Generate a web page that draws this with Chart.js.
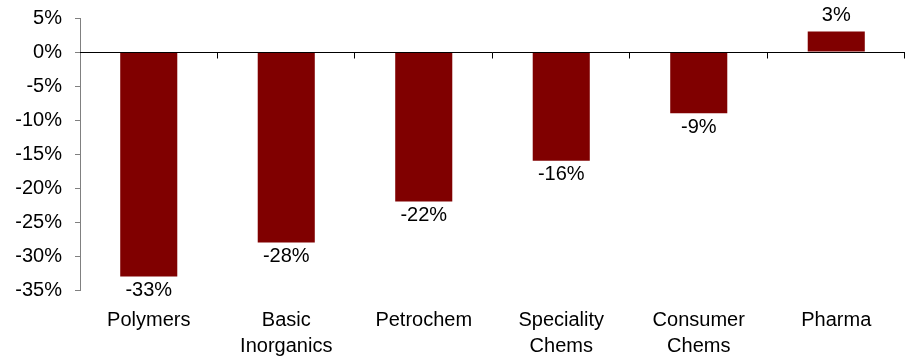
<!DOCTYPE html>
<html>
<head>
<meta charset="utf-8">
<title>Sector change</title>
<script src="https://cdn.jsdelivr.net/npm/chart.js@4.4.1/dist/chart.umd.min.js"></script>
<style>
  html, body { margin: 0; padding: 0; background: #ffffff; }
  #wrap { width: 911px; height: 358px; }
</style>
</head>
<body>
<div id="wrap"><canvas id="c" width="911" height="358"></canvas></div>
<script>
// Sector categories (multi-line where the label wraps)
const categories = [
  'Polymers',
  ['Basic', 'Inorganics'],
  'Petrochem',
  ['Speciality', 'Chems'],
  ['Consumer', 'Chems'],
  'Pharma'
];
// Percentage change by sector
const changePct = [-33, -28, -22, -16, -9, 3];
// Value-axis range and step
const yMin = -35;
const yMax = 5;
const yStep = 5;

const FONT = '"Liberation Sans", Arial, sans-serif';
const BAR_COLOR = '#800000';

// Zero line, category tick marks hanging from it, and value labels on the bars
const decorations = {
  id: 'decorations',
  afterDatasetsDraw(chart) {
    const { ctx, chartArea, scales } = chart;
    const x = scales.x, y = scales.y;
    const y0 = Math.round(y.getPixelForValue(0)) + 0.5;
    ctx.save();
    ctx.strokeStyle = '#000000';
    ctx.lineWidth = 1;
    ctx.beginPath();
    ctx.moveTo(chartArea.left, y0);
    ctx.lineTo(chartArea.right, y0);
    for (let i = 0; i < categories.length; i++) {
      const px = Math.round(x.getPixelForValue(i + 0.5)) - 0.5;
      ctx.moveTo(px, y0);
      ctx.lineTo(px, y0 + 6);
    }
    ctx.stroke();

    const meta = chart.getDatasetMeta(0);
    ctx.fillStyle = '#000000';
    ctx.font = '20px ' + FONT;
    ctx.textAlign = 'center';
    meta.data.forEach((bar, i) => {
      const v = changePct[i];
      const txt = v + '%';
      if (v < 0) {
        ctx.textBaseline = 'top';
        ctx.fillText(txt, bar.x, bar.y + 4);
      } else {
        ctx.textBaseline = 'bottom';
        ctx.fillText(txt, bar.x, bar.y - 6);
      }
    });
    ctx.restore();
  }
};

new Chart(document.getElementById('c'), {
  type: 'bar',
  data: {
    labels: categories,
    datasets: [{
      data: changePct,
      backgroundColor: BAR_COLOR,
      borderWidth: 0,
      categoryPercentage: 1,
      barPercentage: 0.415
    }]
  },
  options: {
    responsive: false,
    devicePixelRatio: 1,
    animation: false,
    layout: { padding: { top: 18, right: 6, bottom: 0, left: 0 } },
    plugins: {
      legend: { display: false },
      tooltip: { enabled: false }
    },
    scales: {
      x: {
        position: 'bottom',
        grid: { display: false },
        border: { display: false },
        ticks: {
          color: '#000000',
          font: { family: FONT, size: 20, lineHeight: 1.3 },
          padding: 9,
          maxRotation: 0,
          autoSkip: false
        },
        afterFit(scale) {
          scale.height = 68;
          scale.paddingLeft = 0;
          scale.paddingRight = 0;
        }
      },
      y: {
        min: yMin,
        max: yMax,
        grid: {
          drawOnChartArea: false,
          drawTicks: true,
          tickLength: 5,
          color: '#808080'
        },
        border: { display: true, color: '#808080', width: 1 },
        ticks: {
          stepSize: yStep,
          color: '#000000',
          padding: 13,
          font: { family: FONT, size: 20 },
          callback: (v) => v + '%'
        },
        afterFit(scale) {
          scale.width = 80;
          scale.paddingTop = 0;
          scale.paddingBottom = 0;
        }
      }
    }
  },
  plugins: [decorations]
});
</script>
</body>
</html>
